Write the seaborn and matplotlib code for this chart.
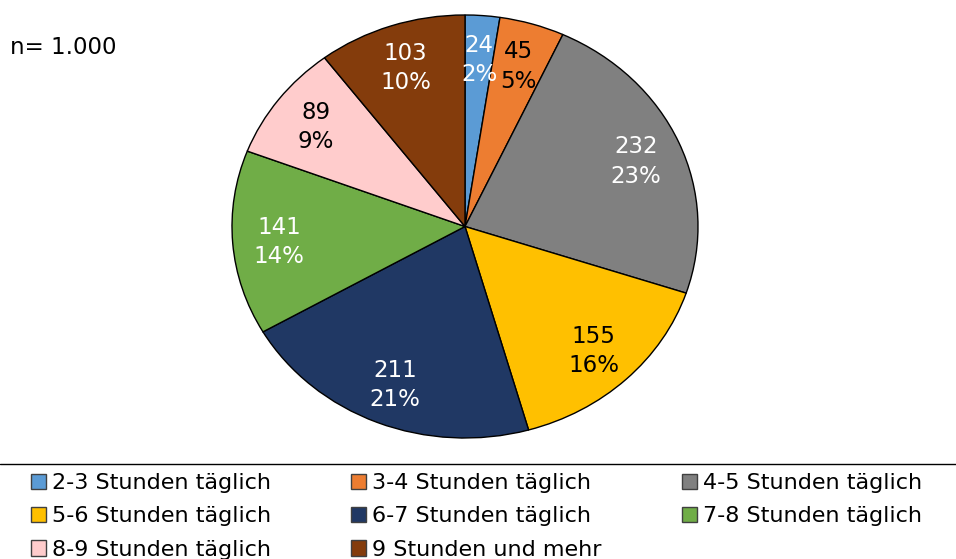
import math
import matplotlib
matplotlib.use("Agg")
import matplotlib.pyplot as plt
import seaborn as sns
from matplotlib.lines import Line2D
from matplotlib.patches import Patch

# data
categories = ["2-3 Stunden täglich", "3-4 Stunden täglich", "4-5 Stunden täglich",
              "5-6 Stunden täglich", "6-7 Stunden täglich", "7-8 Stunden täglich",
              "8-9 Stunden täglich", "9 Stunden und mehr"]
counts = [24, 45, 232, 155, 211, 141, 89, 103]
colors = ["#5B9BD5", "#ED7D31", "#808080", "#FFC000", "#203864", "#70AD47", "#FFCCCC", "#843C0C"]
label_colors = ["white", "black", "white", "black", "white", "white", "black", "white"]

sns.set_style("white")
plt.rcParams['font.family'] = ['DejaVu Sans']
plt.rcParams['text.color'] = 'black'

fig = plt.figure(figsize=(9.56, 5.59), dpi=100)
W, H = 956, 559
# pie is slightly wider than tall in the reference
ax = fig.add_axes([232 / W, (H - 438) / H, (698 - 232) / W, (438 - 15) / H])

total = sum(counts)
wedges, _ = ax.pie(counts, colors=colors, startangle=90, counterclock=False,
                   wedgeprops=dict(edgecolor="black", linewidth=1))
ax.set_aspect("auto")
ax.set_xlim(-1, 1)
ax.set_ylim(-1, 1)
ax.axis("off")

for v, w, c in zip(counts, wedges, label_colors):
    theta = math.radians((w.theta1 + w.theta2) / 2)
    pct = int(math.floor(v / total * 100 + 0.5))
    ax.text(0.8 * math.cos(theta), 0.8 * math.sin(theta) - 0.01, f"{v}\n{pct}%",
            ha="center", va="center", color=c, fontsize=16.5, linespacing=1.35)

fig.text(10 / W, 1 - 48 / H, "n= 1.000", fontsize=16.5, va="center", ha="left")

# separator above the legend
fig.add_artist(Line2D([0, 1], [1 - 464 / H, 1 - 464 / H], color="black", linewidth=1))

handles = [Patch(facecolor=col, edgecolor="#404040", linewidth=1) for col in colors]
order = [0, 3, 6, 1, 4, 7, 2, 5]
leg = fig.legend([handles[i] for i in order], [categories[i] for i in order],
                 ncol=3, loc="upper left", bbox_to_anchor=(31 / W, 1 - 473 / H),
                 frameon=False, fontsize=16, handlelength=0.68, handleheight=0.68,
                 handletextpad=0.27, columnspacing=3.6, labelspacing=0.6,
                 borderaxespad=0, borderpad=0)

fig.savefig("out.png", dpi=100)
